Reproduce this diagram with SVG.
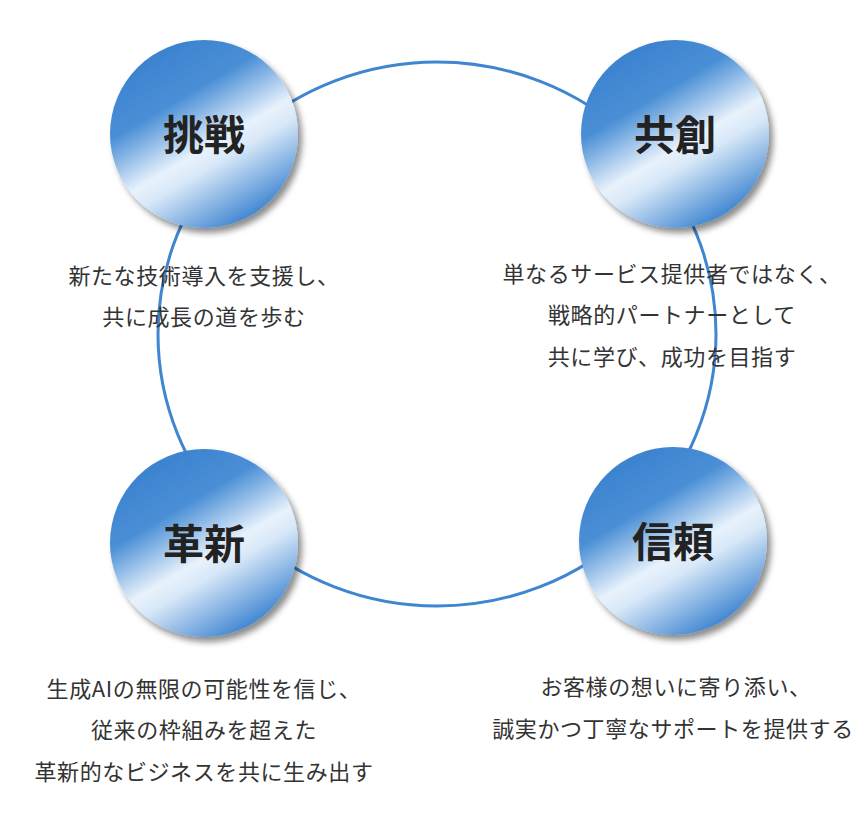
<svg xmlns="http://www.w3.org/2000/svg" width="863" height="835" viewBox="0 0 863 835">
<style>
.title{font-family:"Noto Sans CJK JP","Noto Sans",sans-serif;font-weight:700;font-size:41px;fill:#222;text-anchor:middle}
.desc{font-family:"Noto Sans CJK JP","Noto Sans",sans-serif;font-size:22px;letter-spacing:0.6px;fill:#333;text-anchor:middle}
.ring{fill:none;stroke:#3f86d0;stroke-width:3}
.node{fill:url(#g);filter:url(#sh)}
</style>
<defs>
<linearGradient id="g" x1="0.25" y1="0.1" x2="0.75" y2="0.95">
<stop offset="0" stop-color="#3d84d0"/>
<stop offset="0.25" stop-color="#4a8fd6"/>
<stop offset="0.55" stop-color="#e8f2fc"/>
<stop offset="0.65" stop-color="#d8e8f8"/>
<stop offset="1" stop-color="#3d84d0"/>
</linearGradient>
<filter id="sh" x="-20%" y="-20%" width="150%" height="150%">
<feGaussianBlur in="SourceAlpha" stdDeviation="3"/>
<feOffset dx="4" dy="5" result="b"/>
<feFlood flood-color="#000" flood-opacity="0.45"/>
<feComposite in2="b" operator="in"/>
<feMerge><feMergeNode/><feMergeNode in="SourceGraphic"/></feMerge>
</filter>
</defs>
<g id="connectors">
<ellipse class="ring" cx="437" cy="334" rx="279" ry="272"/>
</g>
<g id="node-challenge">
<circle class="node" cx="204" cy="134" r="94"/>
<text class="title" x="204" y="150">挑戦</text>
<text class="desc" x="204" y="284">新たな技術導入を支援し、</text>
<text class="desc" x="204" y="325">共に成長の道を歩む</text>
</g>
<g id="node-cocreation">
<circle class="node" cx="675" cy="134" r="94"/>
<text class="title" x="675" y="150">共創</text>
<text class="desc" x="672" y="282">単なるサービス提供者ではなく、</text>
<text class="desc" x="672" y="323">戦略的パートナーとして</text>
<text class="desc" x="672" y="365">共に学び、成功を目指す</text>
</g>
<g id="node-innovation">
<circle class="node" cx="204" cy="543" r="94"/>
<text class="title" x="204" y="559">革新</text>
<text class="desc" x="204" y="697">生成AIの無限の可能性を信じ、</text>
<text class="desc" x="204" y="738">従来の枠組みを超えた</text>
<text class="desc" x="204" y="780">革新的なビジネスを共に生み出す</text>
</g>
<g id="node-trust">
<circle class="node" cx="673" cy="541" r="94"/>
<text class="title" x="673" y="557">信頼</text>
<text class="desc" x="676" y="695">お客様の想いに寄り添い、</text>
<text class="desc" x="673" y="737">誠実かつ丁寧なサポートを提供する</text>
</g>
</svg>
